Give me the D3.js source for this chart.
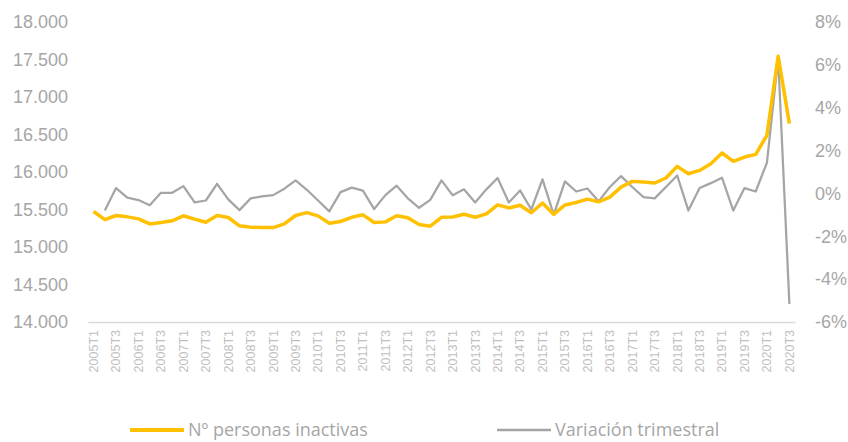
<!DOCTYPE html>
<html>
<head>
<meta charset="utf-8">
<script src="https://cdn.jsdelivr.net/npm/d3@7"></script>
<style>
  body { margin: 0; background: #fff; }
  svg { display: block; font-family: 'Open Sans', sans-serif; }
</style>
</head>
<body>
<div id="chart"></div>
<script>
const years = d3.range(2005, 2021);
const quarters = [];
years.forEach(function (y) {
    [1, 2, 3, 4].forEach(function (q) {
        if (y === 2020 && q > 3) return;
        quarters.push(y + "T" + q);
    });
});

// Nº personas inactivas (miles)
const inactivos = [
    15473, 15366, 15420, 15402, 15375, 15308, 15326, 15349,
    15416, 15371, 15330, 15420, 15393, 15282, 15263, 15259,
    15259, 15308, 15420, 15458, 15415, 15317, 15340, 15396,
    15429, 15326, 15335, 15416, 15389, 15300, 15277, 15396,
    15401, 15436, 15396, 15441, 15561, 15521, 15557, 15456,
    15587, 15435, 15561, 15594, 15638, 15603, 15665, 15799,
    15875, 15866, 15853, 15920, 16075, 15977, 16021, 16110,
    16253, 16142, 16199, 16235, 16489, 17545, 16645
];

// Variación trimestral (%)
const variacion = [
    null, -0.80, 0.25, -0.20, -0.31, -0.55, 0.03, 0.03,
    0.34, -0.42, -0.33, 0.45, -0.28, -0.78, -0.23, -0.14,
    -0.08, 0.22, 0.61, 0.17, -0.33, -0.84, 0.06, 0.27,
    0.13, -0.73, -0.08, 0.36, -0.23, -0.67, -0.30, 0.61,
    -0.09, 0.19, -0.42, 0.19, 0.72, -0.42, 0.14, -0.75,
    0.66, -0.99, 0.56, 0.09, 0.23, -0.37, 0.30, 0.81,
    0.30, -0.17, -0.23, 0.30, 0.84, -0.80, 0.25, 0.48,
    0.73, -0.80, 0.25, 0.09, 1.44, 6.31, -5.16
];

const leftTicks = [14000, 14500, 15000, 15500, 16000, 16500, 17000, 17500, 18000];
const rightTicks = [-6, -4, -2, 0, 2, 4, 6, 8];
const tickLabels = quarters.filter(function (d, i) { return i % 2 === 0; });

const width = 848, height = 442;
const margin = { top: 22, right: 53, bottom: 120, left: 88 };
const innerW = width - margin.left - margin.right;
const innerH = height - margin.top - margin.bottom;

const yellow = "#FFC000", gray = "#A5A5A5", textGray = "#A6A6A6";

const svg = d3.select("#chart").append("svg")
    .attr("width", width)
    .attr("height", height);

const g = svg.append("g")
    .attr("transform", "translate(" + margin.left + "," + margin.top + ")");

const x = d3.scaleBand().domain(quarters).range([0, innerW]);
const yL = d3.scaleLinear().domain([14000, 18000]).range([innerH, 0]);
const yR = d3.scaleLinear().domain([-6, 8]).range([innerH, 0]);
const cx = function (d) { return x(d) + x.bandwidth() / 2; };

// left axis
const fmt = d3.format(",.0f");
g.append("g")
    .call(d3.axisLeft(yL).tickValues(leftTicks).tickSize(0).tickPadding(20)
        .tickFormat(function (d) { return fmt(d).replace(",", "."); }))
    .call(function (s) { s.select(".domain").remove(); })
    .selectAll("text")
    .attr("fill", textGray)
    .style("font-size", "18px");

// right axis
g.append("g")
    .attr("transform", "translate(" + innerW + ",0)")
    .call(d3.axisRight(yR).tickValues(rightTicks).tickSize(0).tickPadding(20)
        .tickFormat(function (d) { return d + "%"; }))
    .call(function (s) { s.select(".domain").remove(); })
    .selectAll("text")
    .attr("fill", textGray)
    .style("font-size", "18px");

// x axis
const xAxis = g.append("g")
    .attr("transform", "translate(0," + innerH + ")")
    .call(d3.axisBottom(x).tickValues(tickLabels).tickSize(0).tickSizeOuter(0));
xAxis.select(".domain")
    .attr("stroke", "#D9D9D9")
    .attr("stroke-width", 1.5);
xAxis.selectAll("text")
    .attr("fill", "#BFBFBF")
    .style("font-size", "12.5px")
    .attr("transform", "rotate(-90)")
    .attr("text-anchor", "end")
    .attr("x", -8)
    .attr("y", 0)
    .attr("dy", "0.35em");

// lines
const lineL = d3.line()
    .x(function (d, i) { return cx(quarters[i]); })
    .y(function (d) { return yL(d); });

const lineR = d3.line()
    .defined(function (d) { return d !== null; })
    .x(function (d, i) { return cx(quarters[i]); })
    .y(function (d) { return yR(d); });

g.append("path")
    .datum(variacion)
    .attr("fill", "none")
    .attr("stroke", gray)
    .attr("stroke-width", 2.25)
    .attr("stroke-linejoin", "round")
    .attr("d", lineR);

g.append("path")
    .datum(inactivos)
    .attr("fill", "none")
    .attr("stroke", yellow)
    .attr("stroke-width", 3.5)
    .attr("stroke-linejoin", "round")
    .attr("d", lineL);

// legend
const legend = [
    { name: "Nº personas inactivas", color: yellow, w: 4, x: 130 },
    { name: "Variación trimestral", color: gray, w: 2.5, x: 497 }
];
const lg = svg.append("g").selectAll("g")
    .data(legend)
    .enter().append("g")
    .attr("transform", function (d) { return "translate(" + d.x + ",430)"; });
lg.append("line")
    .attr("x1", 0).attr("x2", 54)
    .attr("stroke", function (d) { return d.color; })
    .attr("stroke-width", function (d) { return d.w; });
lg.append("text")
    .attr("x", 58)
    .attr("dy", "0.35em")
    .attr("fill", textGray)
    .style("font-size", "18px")
    .text(function (d) { return d.name; });
</script>
</body>
</html>
